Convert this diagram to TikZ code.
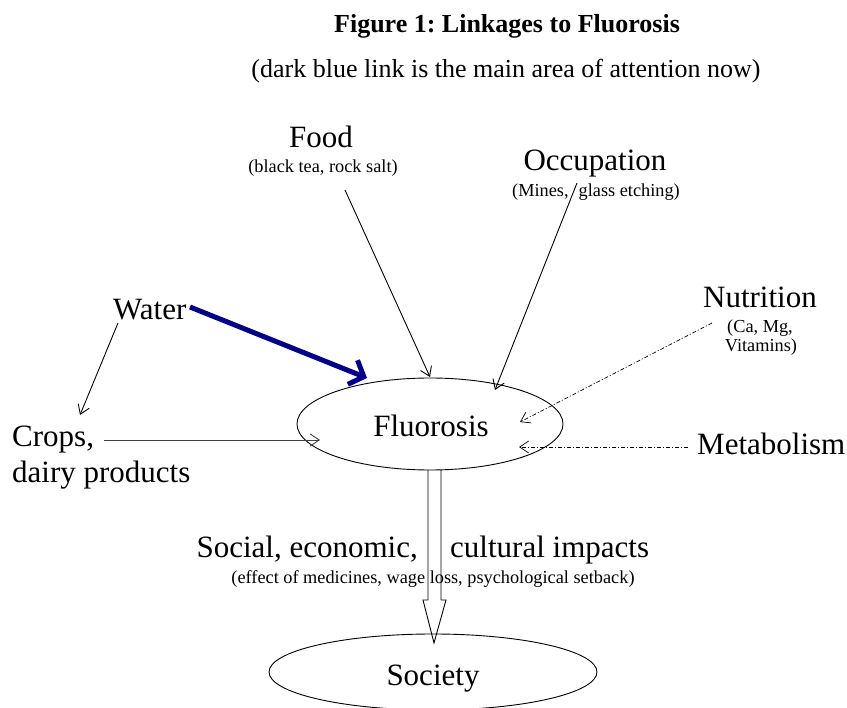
\documentclass[tikz,border=0pt]{standalone}
\usepackage{fontspec}
\setmainfont{Liberation Serif}
\usetikzlibrary{arrows.meta,shapes.geometric}
\definecolor{linkblue}{RGB}{0,0,139}
\frenchspacing
\begin{document}
\begin{tikzpicture}[x=1pt,y=-1pt,
  big/.style={font=\fontsize{31}{34}\selectfont, inner sep=0pt},
  small/.style={font=\fontsize{18.3}{20}\selectfont, inner sep=0pt},
  head/.style={font=\fontsize{26}{28}\selectfont, inner sep=0pt},
  link/.style={draw, line width=0.9pt, -{Straight Barb[length=9pt,width=12pt]}},
  ddlink/.style={link, line width=0.7pt, dash pattern=on 4pt off 2pt on 1pt off 2pt},
  mainlink/.style={draw=linkblue, line width=5pt, -{Straight Barb[length=12pt,width=26pt]}},
  oval/.style={draw, ellipse, line width=0.9pt, inner sep=0pt}]
\useasboundingbox (0,0) rectangle (847,708);

% titles
\node[head, font=\bfseries\fontsize{26}{28}\selectfont, anchor=base] (title) at (507,33) {Figure 1: Linkages to Fluorosis};
\node[head, anchor=base] (subtitle) at (506,78) {(dark blue link is the main area of attention now)};

% ellipses
\node[oval, minimum width=266, minimum height=92] (flu) at (430,424) {};
\node[big, anchor=base] (flutext) at (431,437) {Fluorosis};
\node[oval, minimum width=328, minimum height=76] (soc) at (433,672) {};
\node[big, anchor=base] (soctext) at (433,685) {Society};

% labels
\node[big, anchor=base] (food) at (321,148) {Food};
\node[small, anchor=base] (foodsub) at (323,173) {(black tea, rock salt)};
\node[big, anchor=base] (occ) at (595,171) {Occupation};
\node[small, anchor=base] (occsub) at (596,197) {(Mines,\hspace{0.55em}glass etching)};
\node[big, anchor=base] (nut) at (760,308) {Nutrition};
\node[small, anchor=base] (nuta) at (760,333) {(Ca, Mg,};
\node[small, anchor=base] (nutb) at (761,352) {Vitamins)};
\node[big, anchor=base west] (met) at (697,455) {Metabolism};
\node[big, anchor=base west] (water) at (113,320) {Water};
\node[big, anchor=base west] (crops) at (12,447) {Crops,};
\node[big, anchor=base west] (dairy) at (12,483) {dairy products};
\node[big, anchor=base east] (social) at (418,558) {Social, economic,};
\node[big, anchor=base west] (cult) at (450,558) {cultural impacts};
\node[small, anchor=base] (effect) at (433,584) {(effect of medicines, wage loss, psychological setback)};

% connector end points
\coordinate (foodS) at (345,190);
\coordinate (foodE) at (430,377);
\coordinate (occS) at (577,183);
\coordinate (occE) at (495,390);
\coordinate (nutS) at (712,323);
\coordinate (nutE) at (520,422);
\coordinate (metS) at (688,447);
\coordinate (metE) at (519,447);
\coordinate (watS) at (190,307);
\coordinate (watE) at (367,378);
\coordinate (wcS) at (118,323);
\coordinate (wcE) at (80,415);
\coordinate (crS) at (104,440);
\coordinate (crE) at (320,440);

% connectors
\draw[link] (foodS) -- (foodE);
\draw[link] (occS) -- (occE);
\draw[ddlink] (nutS) -- (nutE);
\draw[ddlink] (metS) -- (metE);
\draw[link] (wcS) -- (wcE);
\draw[link, draw=black!75] (crS) -- (crE);
\draw[mainlink] (watS) -- (watE);

% hollow down arrow from Fluorosis to Society
\coordinate (dnA) at (428,470);
\coordinate (dnB) at (441,470);
\coordinate (dnTip) at (434,643);
\draw[line width=0.9pt, line join=miter]
  (dnA) -- (428,600) -- (423,600) -- (dnTip) -- (446,600) -- (441,600) -- (dnB);
\end{tikzpicture}
\end{document}
